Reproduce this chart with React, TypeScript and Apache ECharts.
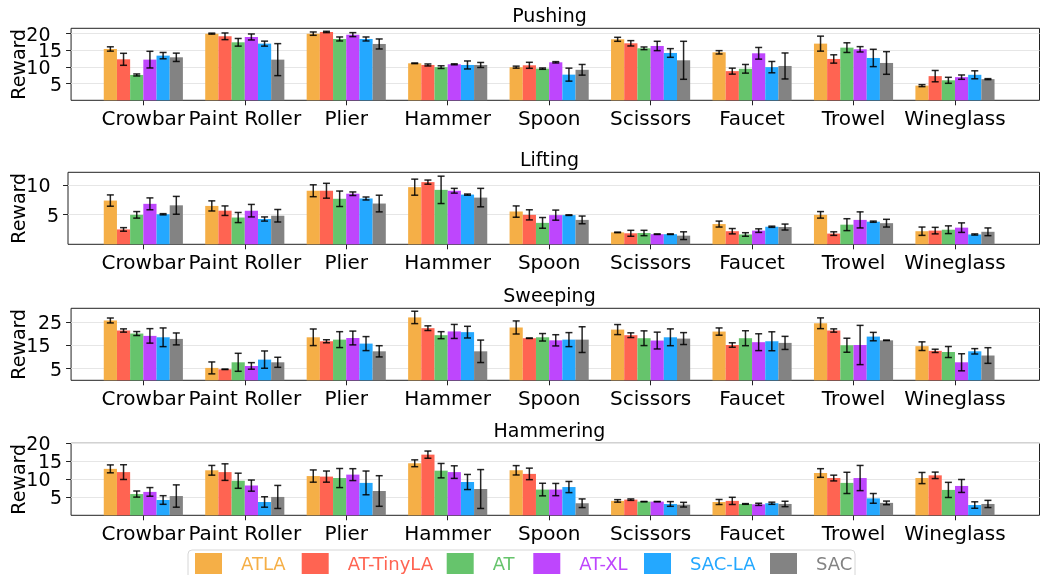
import React, { useEffect, useRef } from "react";
import * as echarts from "echarts";

const categories = ["Crowbar", "Paint Roller", "Plier", "Hammer", "Spoon", "Scissors", "Faucet", "Trowel", "Wineglass"];
const seriesNames = ["ATLA", "AT-TinyLA", "AT", "AT-XL", "SAC-LA", "SAC"];
const seriesColors = ["#F5AF47", "#FF6452", "#66C46C", "#BE46FD", "#24A8FF", "#838383"];
const taskNames = ["Pushing", "Lifting", "Sweeping", "Hammering"];

// rows: ATLA, AT-TinyLA, AT, AT-XL, SAC-LA, SAC ; columns: categories
const pushingMeans = [
  [15.4, 20.0, 20.0, 11.1, 9.95, 18.3, 14.4, 17.0, 4.4],
  [12.3, 19.2, 20.5, 10.6, 10.5, 17.1, 8.75, 12.4, 7.25],
  [7.6, 17.4, 18.4, 9.95, 9.5, 15.6, 9.45, 15.8, 6.0],
  [12.2, 19.0, 19.7, 10.8, 11.4, 16.3, 14.1, 15.3, 6.95],
  [13.4, 17.0, 18.4, 10.6, 7.7, 14.2, 9.95, 12.7, 7.65],
  [12.9, 12.2, 16.9, 10.6, 9.15, 12.0, 10.3, 11.2, 6.35],
];
const pushingErrs = [
  [0.65, 0.15, 0.5, 0.1, 0.3, 0.6, 0.5, 2.25, 0.3],
  [1.8, 1.0, 0.2, 0.3, 0.9, 0.8, 0.9, 1.25, 1.7],
  [0.3, 1.15, 0.6, 0.4, 0.2, 0.4, 1.3, 1.45, 0.9],
  [2.5, 0.9, 0.6, 0.15, 0.2, 1.4, 1.75, 0.8, 0.65],
  [0.95, 0.75, 0.6, 1.2, 1.95, 1.3, 1.7, 2.6, 1.2],
  [1.25, 4.8, 1.5, 0.75, 1.6, 5.7, 3.9, 3.4, 0.15],
];
const liftingMeans = [
  [7.35, 6.45, 9.0, 9.6, 5.5, 2.0, 3.4, 4.95, 2.2],
  [2.5, 5.65, 9.0, 10.45, 4.95, 1.85, 2.2, 1.8, 2.3],
  [4.95, 4.5, 7.65, 9.15, 3.6, 1.9, 1.65, 3.3, 2.45],
  [6.8, 5.65, 8.5, 9.0, 4.9, 1.7, 2.3, 4.1, 2.8],
  [5.05, 4.25, 7.7, 8.35, 4.9, 1.7, 2.95, 3.8, 1.65],
  [6.55, 4.8, 6.85, 7.85, 4.1, 1.45, 2.9, 3.55, 2.1],
];
const liftingErrs = [
  [0.95, 0.85, 1.0, 1.35, 0.95, 0.05, 0.5, 0.55, 0.7],
  [0.3, 0.8, 1.25, 0.35, 0.85, 0.5, 0.45, 0.3, 0.55],
  [0.55, 0.85, 1.3, 2.3, 0.9, 0.45, 0.3, 1.0, 0.65],
  [1.0, 1.05, 0.3, 0.4, 0.85, 0.05, 0.3, 1.35, 0.8],
  [0.1, 0.35, 0.25, 0.1, 0.05, 0.05, 0.1, 0.1, 0.1],
  [1.5, 1.05, 1.4, 1.55, 0.65, 0.65, 0.5, 0.65, 0.65],
];
const sweepingMeans = [
  [25.6, 5.3, 18.4, 26.9, 22.6, 21.7, 20.85, 24.4, 14.6],
  [21.3, 4.7, 16.7, 22.3, 18.0, 19.3, 15.1, 21.3, 12.6],
  [20.0, 7.7, 17.4, 19.3, 18.4, 18.0, 18.0, 15.0, 12.1],
  [19.0, 6.15, 18.1, 20.9, 17.1, 17.0, 16.3, 15.1, 7.7],
  [18.4, 8.85, 15.7, 20.6, 17.4, 18.4, 16.7, 18.7, 12.4],
  [17.7, 7.7, 12.4, 12.4, 17.4, 17.85, 16.0, 17.1, 10.6],
];
const sweepingErrs = [
  [1.05, 2.55, 3.55, 2.65, 2.8, 2.15, 1.55, 2.3, 1.85],
  [0.7, 0.1, 0.65, 1.0, 0.1, 1.0, 0.95, 0.7, 0.7],
  [0.85, 3.85, 3.4, 1.5, 1.6, 3.15, 3.2, 3.0, 2.35],
  [3.1, 1.4, 2.95, 3.0, 2.4, 3.6, 3.6, 8.4, 3.65],
  [4.0, 3.7, 3.0, 2.5, 3.0, 3.6, 4.05, 1.8, 1.15],
  [2.55, 2.15, 2.4, 4.8, 5.5, 2.55, 2.8, 0.1, 3.35],
];
const hammeringMeans = [
  [12.9, 12.5, 10.9, 14.45, 12.5, 4.0, 3.7, 11.75, 10.35],
  [12.0, 12.0, 10.75, 16.85, 11.5, 4.35, 4.0, 10.35, 11.1],
  [5.9, 9.6, 10.35, 12.4, 7.15, 3.8, 3.15, 9.0, 7.05],
  [6.5, 8.25, 11.3, 12.0, 7.15, 3.8, 3.05, 10.35, 8.15],
  [4.25, 3.7, 9.0, 9.25, 7.85, 3.15, 3.35, 4.7, 2.85],
  [5.35, 5.1, 6.75, 7.3, 3.35, 2.95, 3.15, 3.45, 3.15],
];
const hammeringErrs = [
  [1.1, 1.35, 1.7, 0.95, 1.3, 0.35, 0.7, 1.2, 1.55],
  [2.05, 2.3, 1.55, 1.0, 1.6, 0.2, 1.0, 0.8, 0.9],
  [0.85, 2.1, 2.65, 2.0, 1.75, 0.05, 0.1, 2.95, 2.1],
  [1.2, 1.55, 1.65, 1.75, 1.7, 0.05, 0.3, 3.5, 1.8],
  [1.2, 1.45, 3.3, 2.1, 1.55, 0.65, 0.3, 1.35, 0.9],
  [3.1, 3.2, 4.25, 5.4, 1.2, 0.65, 0.75, 0.5, 1.0],
];

const pushingTicks = [5, 10, 15, 20];
const liftingTicks = [5, 10];
const sweepingTicks = [5, 15, 25];
const hammeringTicks = [5, 10, 15, 20];
const yMaxes = [21.6, 12.1, 30.8, 20];

const allMeans = [pushingMeans, liftingMeans, sweepingMeans, hammeringMeans];
const allErrs = [pushingErrs, liftingErrs, sweepingErrs, hammeringErrs];
const allTicks = [pushingTicks, liftingTicks, sweepingTicks, hammeringTicks];

const FONT = "DejaVu Sans";
const BAR_FRAC = 0.13;
const panelTops = [28.3, 172.3, 308.3, 443.3];
const PANEL_H = 72;
const FRAME_LEFT = 59.5;
const FRAME_W = 980;
const DATA_LEFT = 92.6;
const DATA_W = 913.1;
const legendLefts = [195, 301.7, 446.7, 533.3, 644, 770];

export default function App() {
  const ref = useRef<HTMLDivElement>(null);
  useEffect(() => {
    if (!ref.current) return;
    const chart = echarts.init(ref.current, undefined, { renderer: "svg" });
    const grid: any[] = [];
    const xAxis: any[] = [];
    const yAxis: any[] = [];
    const series: any[] = [];
    const title: any[] = [];

    const labelStyle = { fontSize: 19, lineHeight: 14, color: "#000", fontFamily: FONT, margin: 9, hideOverlap: false };

    taskNames.forEach((task, k) => {
      const top = panelTops[k];
      const fi = 2 * k;
      const di = 2 * k + 1;
      const ticks = allTicks[k];
      const evenTicks = ticks.filter((_, i) => i % 2 === 0);
      const oddTicks = ticks.filter((_, i) => i % 2 === 1);
      grid.push({ left: FRAME_LEFT, width: FRAME_W, top, height: PANEL_H, show: true, borderColor: "#222", borderWidth: 1, backgroundColor: "transparent" });
      grid.push({ left: DATA_LEFT, width: DATA_W, top, height: PANEL_H, show: false });
      xAxis.push({ gridIndex: fi, type: "value", min: 0, max: 1, show: false });
      xAxis.push({
        gridIndex: di,
        type: "category",
        data: categories,
        axisLine: { show: false },
        axisTick: { show: true, alignWithLabel: true, length: 5, lineStyle: { color: "#222" } },
        axisLabel: { interval: 0, fontSize: 20, color: "#000", fontFamily: FONT, margin: 8, hideOverlap: false },
      });
      // frame axis: all ticks + grid lines, labels at every other tick
      yAxis.push({
        gridIndex: fi,
        type: "value",
        min: 0,
        max: yMaxes[k],
        name: "Reward",
        nameLocation: "middle",
        nameGap: 41,
        nameTextStyle: { fontSize: 19, color: "#000", fontFamily: FONT },
        axisLine: { show: false },
        axisTick: { show: true, length: 5, customValues: ticks, lineStyle: { color: "#222" } },
        axisLabel: { ...labelStyle, customValues: evenTicks },
        splitLine: { show: true, lineStyle: { color: "#e6e6e6", width: 1 } },
      });
      // data axis: same scale, carries the remaining labels, shifted onto the frame edge
      yAxis.push({
        gridIndex: di,
        type: "value",
        min: 0,
        max: yMaxes[k],
        position: "left",
        offset: DATA_LEFT - FRAME_LEFT,
        axisLine: { show: false },
        axisTick: { show: false },
        splitLine: { show: false },
        axisLabel: { ...labelStyle, show: oddTicks.length > 0, customValues: oddTicks.length ? oddTicks : [0] },
      });

      title.push({
        text: task,
        left: FRAME_LEFT + FRAME_W / 2,
        textAlign: "center",
        top: top - 23,
        padding: 0,
        textStyle: { fontSize: 19, fontWeight: "normal", color: "#000", fontFamily: FONT },
      });

      seriesNames.forEach((name, s) => {
        series.push({
          type: "bar",
          name,
          xAxisIndex: di,
          yAxisIndex: di,
          data: allMeans[k][s],
          barWidth: `${BAR_FRAC * 100}%`,
          barGap: "0%",
          itemStyle: { color: seriesColors[s] },
          emphasis: { disabled: true },
        });
      });

      const errData: number[][] = [];
      seriesNames.forEach((_, s) => {
        categories.forEach((_c, c) => {
          errData.push([c, s, allMeans[k][s][c], allErrs[k][s][c]]);
        });
      });
      series.push({
        type: "custom",
        xAxisIndex: di,
        yAxisIndex: di,
        data: errData,
        encode: { x: 0, y: 2 },
        z: 10,
        silent: true,
        renderItem: (_params: any, api: any) => {
          const ci = api.value(0);
          const si = api.value(1);
          const m = api.value(2);
          const e = api.value(3);
          const band = api.size([1, 0])[0];
          const base = api.coord([ci, m]);
          const x = base[0] + (si - 2.5) * band * BAR_FRAC;
          const yTop = api.coord([ci, m + e])[1];
          const yBot = api.coord([ci, m - e])[1];
          const cap = 3.5;
          const style = { stroke: "rgba(0,0,0,0.85)", lineWidth: 1.5 };
          return {
            type: "group",
            children: [
              { type: "line", shape: { x1: x, y1: yTop, x2: x, y2: yBot }, style },
              { type: "line", shape: { x1: x - cap, y1: yTop, x2: x + cap, y2: yTop }, style },
              { type: "line", shape: { x1: x - cap, y1: yBot, x2: x + cap, y2: yBot }, style },
            ],
          };
        },
      });
    });

    const legend = seriesNames.map((name, s) => ({
      left: legendLefts[s],
      top: 553,
      padding: 0,
      itemWidth: 27,
      itemHeight: 21,
      icon: "rect",
      selectedMode: false,
      data: [{ name, itemStyle: { color: seriesColors[s] } }],
      textStyle: { color: seriesColors[s], fontSize: 18, fontFamily: FONT, padding: [0, 0, 0, 14] },
    }));

    chart.setOption({
      animation: false,
      textStyle: { fontFamily: FONT },
      title,
      grid,
      xAxis,
      yAxis,
      series,
      legend,
      graphic: [
        {
          type: "rect",
          z: -1,
          shape: { x: 188, y: 550, width: 667, height: 40, r: 4 },
          style: { fill: "#fff", stroke: "#d6d6d6", lineWidth: 1 },
        },
      ],
    });
    return () => chart.dispose();
  }, []);
  return <div ref={ref} style={{ position: "fixed", left: 0, top: 0, width: 1041, height: 575 }} />;
}
